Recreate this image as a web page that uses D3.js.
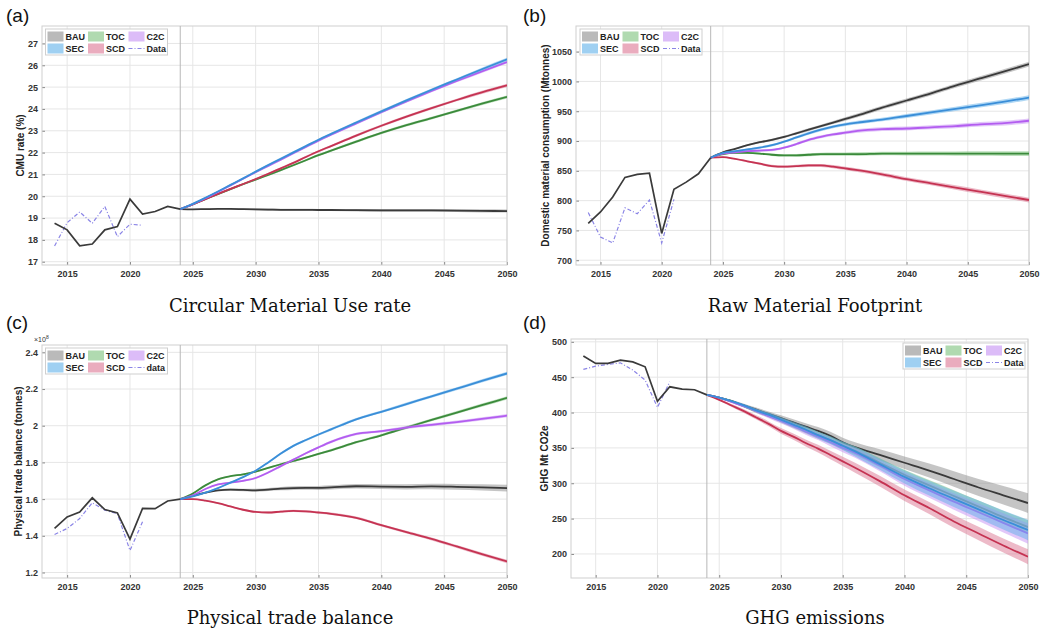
<!DOCTYPE html>
<html>
<head>
<meta charset="utf-8">
<style>
body { margin: 0; background: #fff; }
text { font-family: "Liberation Sans", Arial, sans-serif; }
.axis text { font-size: 9px; font-weight: bold; fill: #333; }
.axis line { stroke: #8a8a8a; }
.axis path { display: none; }
.grid line { stroke: #e6e6e6; stroke-width: 1; }
.ylab { font-size: 10px; font-weight: bold; fill: #222; }
.plabel { font-size: 19px; fill: #111; }
.ptitle { font-family: "DejaVu Serif", "Liberation Serif", serif; font-size: 18px; fill: #111; }
.leg text { font-size: 9px; font-weight: bold; fill: #222; }
</style>
<title></title>
</head>
<body>
<script src="https://cdn.jsdelivr.net/npm/d3@7/dist/d3.min.js"></script>
<script>

// ---- data ----
var histYears = [2014, 2015, 2016, 2017, 2018, 2019, 2020, 2021, 2022, 2023, 2024];
var dataYears = [2014, 2015, 2016, 2017, 2018, 2019, 2020, 2021];
var projYears = [2024, 2025, 2026, 2027, 2028, 2029, 2030, 2031, 2032, 2033, 2034, 2035, 2036, 2038, 2040, 2042, 2044, 2046, 2048, 2050];
var xTicks = [2015, 2020, 2025, 2030, 2035, 2040, 2045, 2050];

// (a) circular material use rate, %
var cmuHist = [18.76, 18.46, 17.73, 17.81, 18.46, 18.61, 19.87, 19.18, 19.30, 19.53, 19.41];
var cmuData = [17.72, 18.79, 19.28, 18.76, 19.53, 18.15, 18.72, 18.67];
var cmuBAU = [19.41, 19.40, 19.41, 19.42, 19.42, 19.41, 19.40, 19.39, 19.38, 19.38, 19.38, 19.37, 19.37, 19.36, 19.35, 19.35, 19.35, 19.34, 19.33, 19.32];
var cmuSEC = [19.41, 19.65, 19.93, 20.22, 20.52, 20.82, 21.13, 21.43, 21.72, 22.01, 22.30, 22.59, 22.86, 23.38, 23.89, 24.39, 24.88, 25.35, 25.82, 26.27];
var cmuTOC = [19.41, 19.63, 19.87, 20.10, 20.33, 20.55, 20.76, 20.98, 21.20, 21.42, 21.65, 21.88, 22.09, 22.50, 22.90, 23.26, 23.58, 23.91, 24.24, 24.55];
var cmuSCD = [19.41, 19.63, 19.87, 20.11, 20.34, 20.56, 20.79, 21.03, 21.28, 21.53, 21.80, 22.06, 22.30, 22.78, 23.23, 23.65, 24.04, 24.41, 24.76, 25.08];
var cmuC2C = [19.41, 19.64, 19.91, 20.20, 20.50, 20.80, 21.10, 21.39, 21.68, 21.97, 22.26, 22.55, 22.82, 23.34, 23.85, 24.34, 24.82, 25.28, 25.72, 26.15];
var cmuBand = [0, 0.02, 0.03, 0.03, 0.04, 0.04, 0.04, 0.05, 0.05, 0.05, 0.05, 0.05, 0.05, 0.06, 0.06, 0.06, 0.06, 0.06, 0.07, 0.07];
var cmuTicks = [17, 18, 19, 20, 21, 22, 23, 24, 25, 26, 27];

// (b) domestic material consumption, Mtonnes
var dmcHist = [762, 781, 806, 839, 844, 846, 745, 819, 831, 845, 872];
var dmcData = [780, 739, 729, 788, 778, 801, 729, 802];
var dmcBAU = [872, 881, 887, 893, 898, 902, 907, 913, 919, 925, 931, 937, 943, 956, 968, 980, 993, 1005, 1017, 1029];
var dmcSEC = [872, 880, 883, 886, 889, 893, 899, 906, 913, 919, 924, 928, 931, 936, 942, 948, 954, 960, 966, 973];
var dmcTOC = [872, 878, 880, 880, 879, 877, 876, 876, 877, 878, 878, 878, 878, 879, 879, 879, 879, 879, 879, 879];
var dmcSCD = [872, 873, 870, 866, 862, 858, 857, 858, 859, 859, 857, 854, 851, 844, 836, 829, 822, 815, 808, 801];
var dmcC2C = [872, 879, 881, 883, 884, 885, 889, 895, 902, 907, 911, 914, 917, 920, 921, 923, 925, 928, 930, 934];
var dmcBand = [0, 1, 1.2, 1.5, 1.8, 2, 2, 2.2, 2.4, 2.5, 2.6, 2.8, 3, 3, 3.2, 3.4, 3.6, 3.8, 4, 4];
var dmcTicks = [700, 750, 800, 850, 900, 950, 1000, 1050];

// (c) physical trade balance, x1e8 tonnes
var ptbHist = [1.440, 1.503, 1.530, 1.607, 1.543, 1.525, 1.382, 1.549, 1.548, 1.590, 1.600];
var ptbData = [1.407, 1.440, 1.494, 1.580, 1.540, 1.520, 1.320, 1.476];
var ptbBAU = [1.600, 1.618, 1.635, 1.648, 1.652, 1.650, 1.648, 1.652, 1.657, 1.660, 1.661, 1.661, 1.664, 1.670, 1.668, 1.667, 1.669, 1.667, 1.664, 1.660];
var ptbSEC = [1.600, 1.615, 1.635, 1.660, 1.690, 1.720, 1.755, 1.800, 1.848, 1.890, 1.922, 1.952, 1.980, 2.035, 2.076, 2.118, 2.160, 2.202, 2.244, 2.285];
var ptbTOC = [1.600, 1.630, 1.675, 1.708, 1.725, 1.735, 1.750, 1.770, 1.790, 1.808, 1.826, 1.846, 1.866, 1.910, 1.948, 1.990, 2.032, 2.072, 2.112, 2.152];
var ptbSCD = [1.600, 1.600, 1.592, 1.578, 1.560, 1.542, 1.530, 1.527, 1.532, 1.536, 1.533, 1.527, 1.520, 1.498, 1.458, 1.420, 1.383, 1.342, 1.300, 1.260];
var ptbC2C = [1.600, 1.620, 1.655, 1.680, 1.690, 1.700, 1.715, 1.745, 1.780, 1.815, 1.850, 1.882, 1.912, 1.955, 1.970, 1.990, 2.005, 2.020, 2.037, 2.055];
var ptbBand = [0, 0.002, 0.003, 0.004, 0.004, 0.005, 0.005, 0.005, 0.006, 0.006, 0.006, 0.006, 0.007, 0.007, 0.007, 0.008, 0.008, 0.008, 0.009, 0.009];
var ptbBandBAU = [0, 0.003, 0.004, 0.005, 0.006, 0.007, 0.008, 0.008, 0.009, 0.010, 0.010, 0.011, 0.011, 0.012, 0.013, 0.014, 0.015, 0.016, 0.017, 0.018];
var ptbTicks = [1.2, 1.4, 1.6, 1.8, 2, 2.2, 2.4];

// (d) GHG emissions, Mt CO2e
var ghgHist = [480, 469.5, 469.5, 474, 471.7, 464.7, 416, 436.4, 433, 432.2, 425];
var ghgData = [461, 465.7, 468, 470.3, 460, 446, 407.3, 443.5];
var ghgBAU = [425, 421, 416, 410, 404, 398, 392, 386, 380, 374, 367, 358, 351, 340, 329, 318, 306, 294, 283, 272];
var ghgSEC = [425, 421, 416, 410, 403, 397, 390, 383, 376, 368, 361, 353, 345, 327, 309, 293, 278, 263, 248, 234];
var ghgTOC = [425, 421, 416, 409, 402, 396, 389, 382, 375, 368, 361, 353, 346, 329, 312, 297, 282, 267, 252, 238];
var ghgSCD = [425, 418, 410, 402, 393, 384, 374, 366, 357, 349, 340, 331, 322, 303, 283, 265, 246, 229, 212, 196];
var ghgC2C = [425, 421, 415, 409, 402, 395, 388, 381, 373, 366, 358, 350, 343, 325, 306, 290, 274, 259, 244, 229];
var ghgBandBAU = [0, 1, 2, 2.5, 3, 3.5, 4, 4.5, 5, 5.5, 6, 6.5, 7, 8, 9, 10, 11, 12, 13, 14];
var ghgBandSEC = [0, 1, 1.5, 2, 2.5, 3, 3.5, 4, 4.5, 5, 5.5, 6, 7, 8, 9.5, 10.5, 11.5, 12.5, 13.5, 14.5];
var ghgBandTOC = [0, 1, 1.5, 2, 2.5, 3, 3.5, 4, 4.5, 5, 5, 5.5, 6, 6.5, 7, 7.5, 8, 8.5, 9, 9.5];
var ghgBandSCD = [0, 1, 2, 2.5, 3, 3.5, 4, 4.5, 5, 5.5, 6, 6.5, 7, 7.5, 8, 8.5, 9, 9.5, 10, 10.5];
var ghgBandC2C = [0, 1, 1.5, 2, 2.5, 3, 3.5, 4, 4.5, 5, 5.5, 6, 7, 8, 9.5, 10.5, 11.5, 12.5, 13.5, 14.5];
var ghgTicks = [200, 250, 300, 350, 400, 450, 500];

// ---- styling ----
var drawOrder = ["BAU", "TOC", "SCD", "C2C", "SEC"];
var lineColor = {BAU: "#3a3a3a", SEC: "#3a8ed8", TOC: "#3b8a3b", SCD: "#c53352", C2C: "#b35df0"};
var bandColor = {BAU: "#8c8c8c", SEC: "#5fb0ea", TOC: "#7cc27c", SCD: "#dc7592", C2C: "#c58ff3"};
var dataColor = "#8a84e6";

var width = 1047, height = 632;
var svg = d3.select("body").append("svg")
    .attr("width", width)
    .attr("height", height);

var panels = [
  {tag: "(a)", tagX: 6, tagY: 22, left: 42, right: 507, top: 26, bottom: 265,
   yDomain: [16.85, 27.8], yTicks: cmuTicks, fmt: d3.format("d"),
   ylabel: "CMU rate (%)", ylabX: 20,
   title: "Circular Material Use rate", titleX: 290, titleY: 312,
   legX: 45.5, legY: 29, dataName: "Data",
   hist: cmuHist, data: cmuData,
   proj: {BAU: cmuBAU, SEC: cmuSEC, TOC: cmuTOC, SCD: cmuSCD, C2C: cmuC2C},
   band: {BAU: cmuBand, SEC: cmuBand, TOC: cmuBand, SCD: cmuBand, C2C: cmuBand}},
  {tag: "(b)", tagX: 523, tagY: 22, left: 576, right: 1029, top: 26, bottom: 265,
   yDomain: [692, 1093], yTicks: dmcTicks, fmt: d3.format("d"),
   ylabel: "Domestic material consumption (Mtonnes)", ylabX: 545,
   title: "Raw Material Footprint", titleX: 815, titleY: 312,
   legX: 580, legY: 29, dataName: "Data",
   hist: dmcHist, data: dmcData,
   proj: {BAU: dmcBAU, SEC: dmcSEC, TOC: dmcTOC, SCD: dmcSCD, C2C: dmcC2C},
   band: {BAU: dmcBand, SEC: dmcBand, TOC: dmcBand, SCD: dmcBand, C2C: dmcBand}},
  {tag: "(c)", tagX: 6, tagY: 329, left: 42, right: 507, top: 345, bottom: 578,
   yDomain: [1.17, 2.44], yTicks: ptbTicks, fmt: d3.format("~g"),
   ylabel: "Physical trade balance (tonnes)", ylabX: 18, exponent: true,
   title: "Physical trade balance", titleX: 290, titleY: 624,
   legX: 45.5, legY: 348, dataName: "data",
   hist: ptbHist, data: ptbData,
   proj: {BAU: ptbBAU, SEC: ptbSEC, TOC: ptbTOC, SCD: ptbSCD, C2C: ptbC2C},
   band: {BAU: ptbBandBAU, SEC: ptbBand, TOC: ptbBand, SCD: ptbBand, C2C: ptbBand}},
  {tag: "(d)", tagX: 523, tagY: 329, left: 571, right: 1028, top: 339, bottom: 578,
   yDomain: [166, 504], yTicks: ghgTicks, fmt: d3.format("d"),
   ylabel: "GHG Mt CO2e", ylabX: 544,
   title: "GHG emissions", titleX: 815, titleY: 624,
   legX: 903, legY: 343, dataName: "Data",
   hist: ghgHist, data: ghgData,
   proj: {BAU: ghgBAU, SEC: ghgSEC, TOC: ghgTOC, SCD: ghgSCD, C2C: ghgC2C},
   band: {BAU: ghgBandBAU, SEC: ghgBandSEC, TOC: ghgBandTOC, SCD: ghgBandSCD, C2C: ghgBandC2C}}
];

panels.forEach(function(p, i) {
  var g = svg.append("g");
  var x = d3.scaleLinear().domain([2013, 2050]).range([p.left, p.right]);
  var y = d3.scaleLinear().domain(p.yDomain).range([p.bottom, p.top]);

  // grid
  var grid = g.append("g").attr("class", "grid");
  grid.selectAll("line.v").data(xTicks).join("line")
      .attr("x1", function(d) { return x(d); }).attr("x2", function(d) { return x(d); })
      .attr("y1", p.top).attr("y2", p.bottom);
  grid.selectAll("line.h").data(p.yTicks).join("line")
      .attr("x1", p.left).attr("x2", p.right)
      .attr("y1", function(d) { return y(d); }).attr("y2", function(d) { return y(d); });

  // axes
  g.append("g").attr("class", "axis")
      .attr("transform", "translate(0," + p.bottom + ")")
      .call(d3.axisBottom(x).tickValues(xTicks).tickFormat(d3.format("d")).tickSize(-3).tickPadding(6));
  g.append("g").attr("class", "axis")
      .attr("transform", "translate(" + p.left + ",0)")
      .call(d3.axisLeft(y).tickValues(p.yTicks).tickFormat(p.fmt).tickSize(-3).tickPadding(4));

  // frame
  g.append("rect")
      .attr("x", p.left).attr("y", p.top)
      .attr("width", p.right - p.left).attr("height", p.bottom - p.top)
      .attr("fill", "none").attr("stroke", "#cfcfcf");

  // start of projections
  g.append("line")
      .attr("x1", x(2024)).attr("x2", x(2024))
      .attr("y1", p.top).attr("y2", p.bottom)
      .attr("stroke", "#b8b8b8").attr("stroke-width", 1);

  svg.append("clipPath").attr("id", "clip" + i)
    .append("rect")
      .attr("x", p.left).attr("y", p.top)
      .attr("width", p.right - p.left).attr("height", p.bottom - p.top);
  var plot = g.append("g").attr("clip-path", "url(#clip" + i + ")");

  // scenarios: band then line
  drawOrder.forEach(function(s) {
    var vals = p.proj[s], spread = p.band[s];
    var pts = projYears.map(function(yr, k) { return {year: yr, v: vals[k], e: spread[k]}; });
    plot.append("path")
        .datum(pts)
        .attr("fill", bandColor[s])
        .attr("fill-opacity", 0.5)
        .attr("d", d3.area()
            .curve(d3.curveMonotoneX)
            .x(function(d) { return x(d.year); })
            .y0(function(d) { return y(d.v - d.e); })
            .y1(function(d) { return y(d.v + d.e); }));
    plot.append("path")
        .datum(pts)
        .attr("fill", "none")
        .attr("stroke", lineColor[s])
        .attr("stroke-width", 1.8)
        .attr("d", d3.line()
            .curve(d3.curveMonotoneX)
            .x(function(d) { return x(d.year); })
            .y(function(d) { return y(d.v); }));
  });

  // observed data, dashed
  plot.append("path")
      .datum(dataYears.map(function(yr, k) { return [yr, p.data[k]]; }))
      .attr("fill", "none")
      .attr("stroke", dataColor)
      .attr("stroke-width", 1.2)
      .attr("stroke-dasharray", "4,2,1,2")
      .attr("d", d3.line().x(function(d) { return x(d[0]); }).y(function(d) { return y(d[1]); }));

  // model history
  plot.append("path")
      .datum(histYears.map(function(yr, k) { return [yr, p.hist[k]]; }))
      .attr("fill", "none")
      .attr("stroke", "#3a3a3a")
      .attr("stroke-width", 1.7)
      .attr("d", d3.line().x(function(d) { return x(d[0]); }).y(function(d) { return y(d[1]); }));

  // y label
  g.append("text").attr("class", "ylab")
      .attr("transform", "translate(" + p.ylabX + "," + ((p.top + p.bottom) / 2) + ") rotate(-90)")
      .attr("text-anchor", "middle")
      .attr("dy", "0.35em")
      .text(p.ylabel);

  if (p.exponent) {
    var ex = g.append("text").attr("x", p.left - 8).attr("y", p.top - 3)
        .style("font-size", "7px").style("fill", "#333");
    ex.append("tspan").text("\u00d710");
    ex.append("tspan").attr("dy", -3).style("font-size", "5px").text("8");
  }

  // panel tag and title
  g.append("text").attr("class", "plabel").attr("x", p.tagX).attr("y", p.tagY).text(p.tag);
  g.append("text").attr("class", "ptitle")
      .attr("x", p.titleX).attr("y", p.titleY)
      .attr("text-anchor", "middle")
      .text(p.title);

  // legend
  var leg = g.append("g").attr("class", "leg").attr("transform", "translate(" + p.legX + "," + p.legY + ")");
  leg.append("rect").attr("width", 122).attr("height", 26)
      .attr("fill", "#fff").attr("stroke", "#cfcfcf");
  var items = [
    {name: "BAU", col: 0, row: 0}, {name: "TOC", col: 1, row: 0}, {name: "C2C", col: 2, row: 0},
    {name: "SEC", col: 0, row: 1}, {name: "SCD", col: 1, row: 1}, {name: p.dataName, col: 2, row: 1, dash: true}
  ];
  items.forEach(function(it) {
    var ix = 2 + it.col * 40.5, iy = 7.5 + it.row * 12;
    if (it.dash) {
      leg.append("line").attr("x1", ix).attr("x2", ix + 16).attr("y1", iy).attr("y2", iy)
          .attr("stroke", dataColor).attr("stroke-width", 1.2).attr("stroke-dasharray", "4,2,1,2");
    } else {
      leg.append("rect").attr("x", ix).attr("y", iy - 5).attr("width", 16).attr("height", 10)
          .attr("fill", bandColor[it.name]).attr("fill-opacity", 0.6);
    }
    leg.append("text").attr("x", ix + 18).attr("y", iy).attr("dy", "0.35em").text(it.name);
  });
});

</script>
</body>
</html>
